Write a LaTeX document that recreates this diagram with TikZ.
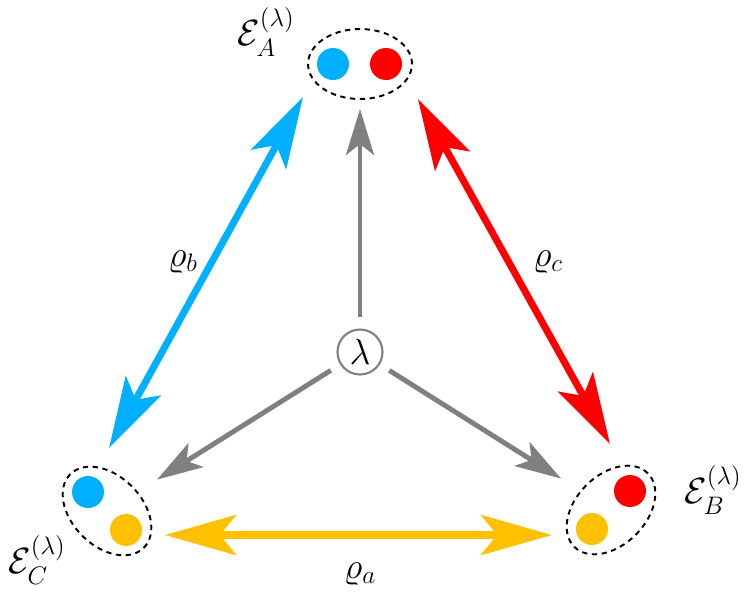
\documentclass[tikz,border=0pt]{standalone}
\usepackage{amsmath}
\usepackage{tikz}
\usetikzlibrary{arrows.meta,shapes.geometric,positioning}
\definecolor{qblue}{RGB}{0,176,255}
\definecolor{qred}{RGB}{255,0,0}
\definecolor{qyellow}{RGB}{255,192,0}
\definecolor{qgray}{RGB}{128,128,128}
\tikzset{
    party/.style={ellipse,draw,line width=1.1pt,dash pattern=on 3pt off 2.6pt,
        minimum width=2.08cm,minimum height=1.4cm,inner sep=0pt},
    dot/.style={circle,minimum size=0.64cm,inner sep=0pt},
    source/.style={circle,draw=qgray,line width=1.2pt,minimum size=0.9cm,inner sep=0pt,
        font=\huge},
    lbl/.style={font=\huge},
}
\tikzstyle{src}  = [draw=qgray,line width=2.8pt,-{Stealth[length=0.92cm,width=0.56cm,inset=0.22cm]},
                    shorten <=0.22cm]
\tikzstyle{corr} = [line width=4pt,{Stealth[length=1.42cm,width=0.8cm,inset=0.32cm]}-{Stealth[length=1.42cm,width=0.8cm,inset=0.32cm]}]

\begin{document}
\begin{tikzpicture}[x=0.02cm,y=-0.02cm]
    \useasboundingbox (0,0) rectangle (750,596);

    \node[party] (EA) at (360,64) {};
    \node[party,rotate=-45] (EC) at (107,511) {};
    \node[party,rotate=45] (EB) at (611,510) {};

    \foreach \name/\x/\y/\col in {Ab/333/64/qblue,Ar/386/64/qred,
            Cb/88/492/qblue,Cy/126/530/qyellow,
            Br/630/491/qred,By/592/529/qyellow}
        \node[dot,fill=\col] (\name) at (\x,\y) {};

    \node[source] (lam) at (360,352) {$\lambda$};

    \draw[src,shorten >=0.18cm] (lam) -- (EA);
    \draw[src,shorten >=0.45cm] (lam) -- (EC);
    \draw[src,shorten >=0.45cm] (lam) -- (EB);

    \coordinate (bA) at (303,97);
    \coordinate (bC) at (109,448);
    \coordinate (rA) at (418,99);
    \coordinate (rB) at (610,444);
    \coordinate (yC) at (165,535);
    \coordinate (yB) at (552,535);

    \draw[corr,qblue] (bA) -- (bC);
    \draw[corr,qred] (rA) -- (rB);
    \draw[corr,qyellow] (yC) -- (yB);

    \node[lbl] (rhob) at (183,262) {$\varrho_b$};
    \node[lbl] (rhoc) at (548,262) {$\varrho_c$};
    \node[lbl] (rhoa) at (360,574) {$\varrho_a$};

    \node[lbl] (labA) at (266,32) {$\mathcal{E}_A^{(\lambda)}$};
    \node[lbl] (labC) at (37,560) {$\mathcal{E}_C^{(\lambda)}$};
    \node[lbl] (labB) at (713,490) {$\mathcal{E}_B^{(\lambda)}$};
\end{tikzpicture}
\end{document}
